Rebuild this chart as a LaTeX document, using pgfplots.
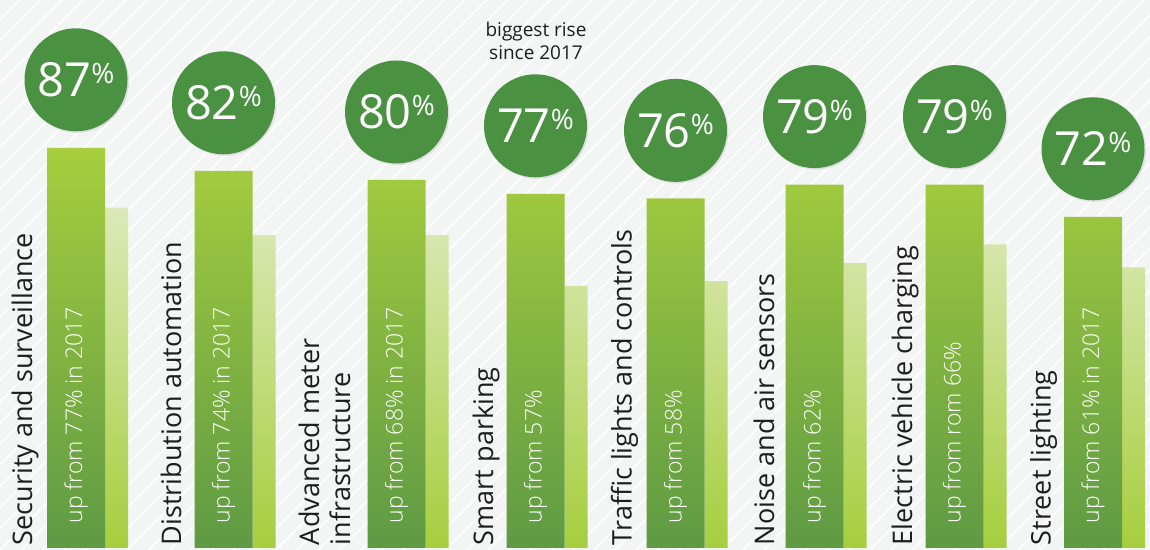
\documentclass[border=0pt]{standalone}
\usepackage{pgfplots}
\pgfplotsset{compat=1.18}
\usepackage{fontspec}
\setmainfont{Open Sans}
\newfontfamily\lightfont{Open Sans Light}
\usetikzlibrary{patterns.meta, shadows}

\definecolor{bgc}{HTML}{F3F4F4}
\definecolor{circ}{HTML}{4A9142}
\definecolor{lime}{HTML}{A6CE3E}
\definecolor{dark}{HTML}{5E9A44}
\definecolor{pale}{HTML}{DCE9B8}
\definecolor{txt}{HTML}{1E1E1E}

\begin{document}
\begin{tikzpicture}
\begin{axis}[
    width=1150pt, height=550pt, scale only axis,
    xmin=0, xmax=1150, ymin=-0.435, ymax=119.13,
    hide axis, clip=false,
    ]
    % background with light stripes
    \fill[bgc] (rel axis cs:0,0) rectangle (rel axis cs:1,1);
    \fill[pattern={Lines[angle=45,distance=15pt,line width=1.5pt]}, pattern color=white]
        (rel axis cs:0,0) rectangle (rel axis cs:1,1);

    % 2017 values (faded bars)
    \addplot[ybar, bar width=23, bar shift=0pt, draw=none,
        bottom color=lime, middle color=lime!70!pale, top color=pale]
        coordinates {(116.5,74) (264,68) (437,68) (576,57) (716,58) (855,62) (995,66) (1133.5,61)};

    % current values
    \addplot[ybar, bar width=58, bar shift=0pt, draw=none,
        bottom color=dark, middle color=lime!92!dark, top color=lime]
        coordinates {(76,87) (223.5,82) (396.5,80) (535.5,77) (675.5,76) (814.5,79) (954.5,79) (1093,72)};

    % circles with percentages
    \addplot[draw=none, point meta=explicit symbolic,
        nodes near coords={\fontsize{47}{47}\selectfont\pgfplotspointmeta\raisebox{13pt}{\fontsize{28}{28}\selectfont\%}},
        nodes near coords style={circle, fill=circ, minimum size=103pt, inner sep=0pt,
            anchor=center, yshift=68pt, text=white,
            drop shadow={opacity=0.18, shadow xshift=1.5pt, shadow yshift=-1.5pt}}]
        coordinates {(76,87)[87] (223.5,82)[82] (396.5,80)[80] (535.5,77)[77]
                     (675.5,76)[76] (814.5,79)[79] (954.5,79)[79] (1093,72)[72]};

    % text inside bars
    \addplot[draw=none, point meta=explicit symbolic,
        nodes near coords={\pgfplotspointmeta},
        nodes near coords style={rotate=90, anchor=west, inner sep=0pt, text=white,
            font=\lightfont\fontsize{23}{27}\selectfont}]
        coordinates {(76,5.3)[up from 77\% in 2017] (223.5,5.3)[up from 74\% in 2017]
                     (396.5,5.3)[up from 68\% in 2017] (535.5,5.3)[up from 57\%]
                     (675.5,5.3)[up from 58\%] (814.5,5.3)[up from 62\%]
                     (954.5,5.3)[up from rom 66\%] (1093,5.3)[up from 61\% in 2017]};

    % category labels
    \addplot[draw=none, point meta=explicit symbolic,
        nodes near coords={\pgfplotspointmeta},
        nodes near coords style={rotate=90, anchor=west, inner sep=0pt, text=txt,
            align=left, font=\fontsize{27}{31}\selectfont}]
        coordinates {(25,0.6)[Security and surveillance] (171,0.6)[Distribution automation]
                     (324.5,0.6)[Advanced meter\\infrastructure] (486,0.6)[Smart parking]
                     (624.5,0.6)[Traffic lights and controls] (764,0.6)[Noise and air sensors]
                     (905,0.6)[Electric vehicle charging] (1043.5,0.6)[Street lighting]};

    \node[align=center, text=txt, font=\fontsize{19}{23}\selectfont]
        at (axis cs:536,110.2) {biggest rise\\since 2017};
\end{axis}
\end{tikzpicture}
\end{document}
